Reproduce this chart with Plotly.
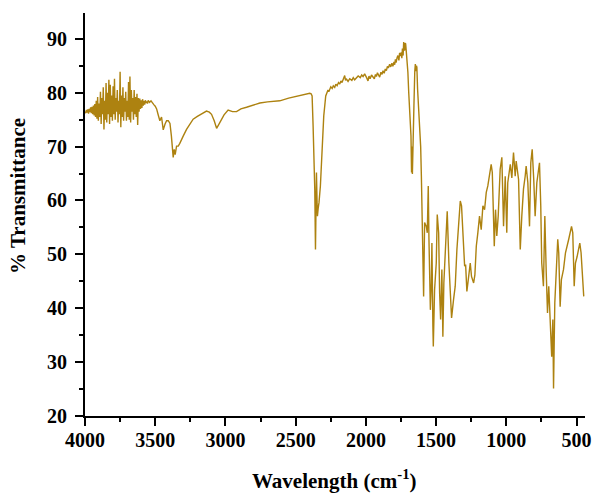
import plotly.graph_objects as go

# Wavenumber (cm-1) and % transmittance
wavenumber = [
    4000, 3995, 3990, 3985, 3980, 3975, 3970, 3965, 3960, 3955,
    3950, 3945, 3940, 3935, 3930, 3925, 3920, 3915, 3910, 3905,
    3900, 3895, 3890, 3885, 3880, 3875, 3870, 3865, 3860, 3855,
    3850, 3845, 3840, 3835, 3830, 3825, 3820, 3815, 3810, 3805,
    3800, 3795, 3790, 3785, 3780, 3775, 3770, 3765, 3760, 3755,
    3750, 3745, 3740, 3735, 3730, 3725, 3720, 3715, 3710, 3705,
    3700, 3695, 3690, 3685, 3680, 3675, 3670, 3665, 3660, 3655,
    3650, 3645, 3640, 3635, 3630, 3625, 3620, 3615, 3610, 3605,
    3600, 3595, 3590, 3585, 3580, 3575, 3570, 3565, 3560, 3555,
    3550, 3540, 3530, 3520, 3510,
    3500, 3490, 3480, 3467, 3455, 3443, 3430, 3419, 3407, 3395,
    3385, 3378, 3372, 3365, 3358, 3348, 3336, 3325, 3312, 3300,
    3277, 3250, 3230, 3200, 3170, 3135, 3115, 3099, 3080, 3063,
    3050, 3040, 3010, 2981, 2950, 2921, 2890, 2850, 2800, 2755,
    2700, 2613, 2550, 2500, 2450, 2400, 2390, 2383, 2376, 2369,
    2364, 2359, 2355, 2352, 2348, 2345, 2340, 2334, 2324, 2312,
    2300, 2286, 2275, 2270, 2264, 2258, 2250, 2240, 2232, 2222,
    2214, 2205, 2195, 2186, 2178, 2170, 2160, 2151, 2145, 2140,
    2127, 2115, 2100, 2090, 2080, 2068, 2055, 2040, 2030, 2020,
    2009, 1995, 1985, 1978, 1970, 1960, 1950, 1940, 1932, 1925,
    1918, 1910, 1902, 1893, 1885, 1878, 1870, 1862, 1854, 1847,
    1840, 1831, 1823, 1815, 1808, 1800, 1795, 1790, 1785, 1778,
    1772, 1765, 1760, 1755, 1748, 1744, 1740, 1735, 1731, 1725,
    1720, 1717, 1712, 1708, 1701, 1695,
    1690, 1684, 1679, 1675, 1672, 1669, 1665, 1658, 1652, 1648,
    1644, 1640, 1637, 1632, 1625, 1617, 1610, 1605, 1598, 1594,
    1589, 1582, 1570, 1563, 1556, 1551, 1541, 1534, 1530, 1523,
    1520, 1511, 1499, 1492, 1482, 1475, 1468, 1459, 1452, 1445,
    1435, 1428, 1421, 1409, 1399, 1390, 1376, 1364, 1352, 1340,
    1328, 1319, 1310, 1297, 1290, 1281, 1271, 1257, 1248, 1233,
    1224, 1214, 1203, 1191, 1179, 1167, 1155, 1143, 1132, 1120,
    1108, 1100, 1096, 1086, 1077, 1068, 1058, 1044, 1032, 1020,
    1008, 997, 990, 972, 961, 949, 937, 930, 913, 901,
    890, 878, 866, 859, 847, 835, 826, 816, 805, 795,
    783, 771, 764, 755, 748, 736, 726, 716, 707, 698,
    684, 677, 669, 664, 655, 645, 634, 627, 617, 608,
    593, 579, 567, 556, 536, 527, 517, 508, 496, 487,
    477, 468, 456, 449,
]

transmittance = [
    76.5, 76.2, 76.8, 76.3, 76.9, 76.1, 77.0, 76.4, 77.3, 76.2,
    77.4, 76.0, 77.6, 75.8, 77.9, 75.5, 78.5, 75.2, 79.2, 74.8,
    78.0, 75.5, 80.2, 74.2, 79.0, 76.0, 81.0, 73.2, 78.5, 75.0,
    81.8, 74.5, 80.0, 76.0, 82.4, 74.2, 81.5, 75.5, 79.5, 74.8,
    81.2, 76.0, 82.6, 75.0, 79.0, 76.5, 80.5, 74.5, 78.5, 76.0,
    83.9, 73.6, 79.5, 75.5, 81.0, 74.8, 79.0, 76.5, 80.2, 74.8,
    78.5, 75.5, 82.0, 75.0, 83.0, 74.5, 80.5, 76.5, 79.0, 75.0,
    80.5, 76.0, 79.2, 75.5, 79.8, 74.0, 79.0, 76.5, 78.9, 77.0,
    78.6, 77.2, 78.8, 77.6, 78.5, 77.8, 78.6, 78.1, 78.4, 78.0,
    78.6, 78.2, 78.5, 78.0, 77.8,
    77.5, 77.0, 76.0, 74.8, 75.5, 73.1, 74.2, 74.8, 74.8, 74.3,
    72.0, 69.0, 68.0, 69.5, 68.5, 70.1, 70.1, 70.6, 71.2, 72.0,
    73.2, 74.3, 75.1, 75.6, 76.1, 76.6, 76.4, 76.0, 74.8, 73.4,
    74.0, 74.5, 75.9, 76.8, 76.5, 76.5, 77.0, 77.3, 77.7, 78.1,
    78.3, 78.5, 79.0, 79.3, 79.6, 79.9, 79.8, 79.4, 73.9, 66.4,
    62.0, 50.9, 58.0, 65.2, 60.0, 57.1, 58.5, 59.6, 62.7, 69.5,
    75.7, 79.4, 80.0, 80.5, 80.2, 80.7, 81.1, 80.8, 81.3, 81.0,
    81.6, 81.3, 81.9, 81.6, 82.2, 81.9, 82.6, 83.2, 82.3, 82.6,
    82.1, 82.6, 82.3, 82.8, 82.4, 82.7, 83.1, 82.8, 83.3, 83.0,
    83.5, 82.8, 82.2, 83.1, 82.6, 83.3, 82.9, 82.6, 83.4, 83.0,
    83.7, 83.2, 82.9, 83.8, 83.4, 84.1, 83.6, 84.4, 84.1, 84.9,
    84.6, 85.3, 84.8, 85.5, 84.9, 85.7, 85.2, 86.2, 85.6, 86.5,
    86.9, 86.0, 87.4, 86.8, 87.5, 86.4, 88.2, 86.9, 89.4, 87.8,
    89.2, 89.1, 87.5, 86.3, 83.8, 80.0,
    76.8, 74.5, 72.0, 65.2, 70.0, 64.9, 72.0, 77.6, 84.0, 85.3,
    84.0, 85.0, 84.7, 80.7, 77.5, 74.5, 70.0, 64.5, 55.9, 44.7,
    42.2, 55.9, 55.2, 54.0, 62.7, 52.8, 39.7, 44.7, 52.1, 36.6,
    32.9, 43.4, 48.4, 57.4, 54.0, 42.8, 37.9, 47.2, 34.7, 44.7,
    50.9, 54.6, 58.0, 48.4, 42.8, 38.2, 41.6, 44.1, 50.9, 55.9,
    59.9, 59.0, 53.4, 47.8, 48.1, 43.1, 45.3, 48.4, 45.9, 44.7,
    46.2, 51.5, 54.0, 57.1, 54.6, 59.0, 58.3, 61.5, 62.7, 64.5,
    66.7, 65.2, 59.0, 51.5, 58.3, 53.4, 57.1, 65.8, 68.0, 55.2,
    64.5, 54.0, 63.3, 66.7, 64.2, 68.9, 64.5, 67.3, 63.9, 50.9,
    57.1, 62.1, 64.5, 66.4, 63.3, 55.2, 67.0, 69.5, 63.9, 57.1,
    63.3, 65.8, 67.0, 59.0, 48.4, 44.1, 57.1, 46.6, 39.1, 44.1,
    34.7, 31.0, 37.9, 25.1, 41.0, 47.2, 52.8, 50.3, 40.3, 45.3,
    47.2, 50.3, 51.5, 52.8, 55.2, 54.0, 44.1, 48.4, 49.6, 50.9,
    52.1, 50.3, 43.4, 42.2,
]

x_ticks = [4000, 3500, 3000, 2500, 2000, 1500, 1000, 500]
y_ticks = [20, 30, 40, 50, 60, 70, 80, 90]

assert len(wavenumber) == len(transmittance), (len(wavenumber), len(transmittance))

FONT = "Liberation Serif"

fig = go.Figure()
fig.add_trace(go.Scatter(
    x=wavenumber, y=transmittance, mode="lines",
    line=dict(color="#AD8210", width=1.4),
    showlegend=False,
))

axis_common = dict(
    showline=True, linecolor="black", linewidth=2,
    ticks="outside", ticklen=8, tickwidth=2, tickcolor="black",
    showgrid=False, zeroline=False, mirror=False, automargin=False,
    tickfont=dict(family=FONT, size=20, color="black", weight="bold"),
)

fig.update_xaxes(
    range=[4000, 440], tickvals=x_ticks,
    ticktext=[str(v) for v in x_ticks],
    minor=dict(ticks="outside", ticklen=4, tickwidth=2, tickcolor="black",
               dtick=250, tick0=0, showgrid=False),
    ticklabelstandoff=-3,
    **axis_common,
)
fig.update_yaxes(
    range=[20, 94.8], tickvals=y_ticks,
    ticktext=[str(v) for v in y_ticks],
    minor=dict(ticks="outside", ticklen=4, tickwidth=2, tickcolor="black",
               dtick=5, tick0=0, showgrid=False),
    ticklabelstandoff=4,
    **axis_common,
)

fig.add_annotation(
    text="% Transmittance", xref="paper", yref="paper",
    x=-0.134, y=0.546, xanchor="center", yanchor="middle",
    textangle=-90, showarrow=False,
    font=dict(family=FONT, size=21, color="black", weight="bold"),
)
fig.add_annotation(
    text="Wavelength (cm<sup>-1</sup>)", xref="paper", yref="paper",
    x=0.498, y=-0.158, xanchor="center", yanchor="middle",
    showarrow=False,
    font=dict(family=FONT, size=21, color="black", weight="bold"),
)

fig.update_layout(
    width=595, height=493,
    margin=dict(l=85, r=10, t=13, b=77),
    paper_bgcolor="white", plot_bgcolor="white",
)

# Remove the default page margin so the figure fills the window exactly.
fig.write_html(
    "out.html",
    config={"displayModeBar": False},
    post_script="document.body.style.margin='0';document.body.style.overflow='hidden';",
)
